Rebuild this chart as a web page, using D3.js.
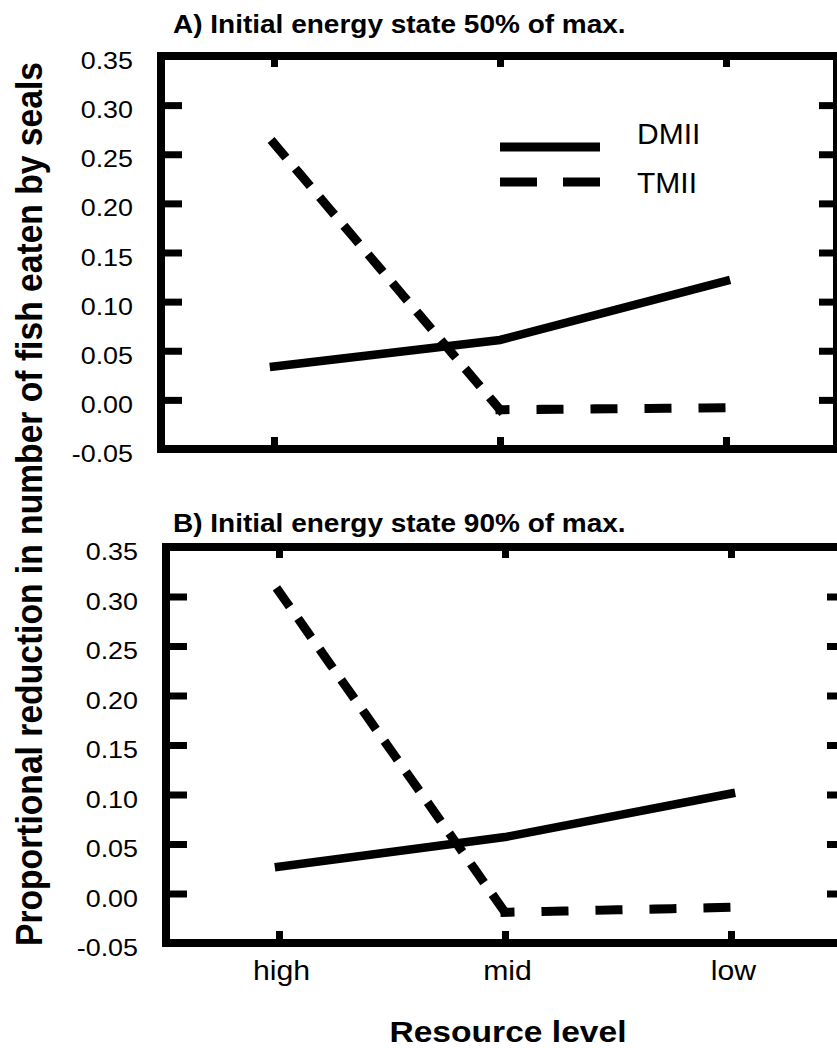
<!DOCTYPE html>
<html>
<head>
<meta charset="utf-8">
<script src="https://cdn.jsdelivr.net/npm/d3@7"></script>
<style>
  html, body { margin: 0; padding: 0; background: #fff; }
  svg { display: block; }
  text { font-family: "Liberation Sans", Arial, Helvetica, sans-serif; fill: #000; }
</style>
</head>
<body>
<svg id="chart" width="837" height="1048"></svg>
<script>
// ---------------- data ----------------
const categories = ["high", "mid", "low"];
const yTickValues = [-0.05, 0.00, 0.05, 0.10, 0.15, 0.20, 0.25, 0.30, 0.35];
const innerTickValues = [0.00, 0.05, 0.10, 0.15, 0.20, 0.25, 0.30];
const panelTitles = ["A) Initial energy state 50% of max.", "B) Initial energy state 90% of max."];
const seriesNames = ["DMII", "TMII"];
const dmiiA = [0.034, 0.061, 0.121];
const tmiiA = [0.261, -0.010, -0.008];
const dmiiB = [0.027, 0.057, 0.101];
const tmiiB = [0.305, -0.019, -0.014];
const yAxisTitle = "Proportional reduction in number of fish eaten by seals";
const xAxisTitle = "Resource level";

// ---------------- layout ----------------
const svg = d3.select("#chart");
const SX = 1.12; // horizontal stretch of the original artwork
const panels = [
  { title: panelTitles[0], dmii: dmiiA, tmii: tmiiA, left: 161, top: 56, bottom: 449, right: 837, titleY: 33, legend: true, xLabels: false },
  { title: panelTitles[1], dmii: dmiiB, tmii: tmiiB, left: 166, top: 547, bottom: 943, right: 845, titleY: 532, legend: false, xLabels: true }
];

const fmt = v => d3.format(".2f")(v).replace("\u2212", "-");

panels.forEach(p => {
  const x = d3.scalePoint().domain(categories).range([p.left, p.left + 678]).padding(0.5);
  const y = d3.scaleLinear().domain([-0.05, 0.35]).range([p.bottom, p.top]);
  const g = svg.append("g");

  // panel title
  g.append("text")
    .attr("transform", `translate(173,${p.titleY}) scale(${SX},1)`)
    .attr("font-size", 25).attr("font-weight", "bold")
    .text(p.title);

  // left axis with labels
  const ax = g.append("g").attr("transform", `translate(${p.left},0)`)
    .call(d3.axisLeft(y).tickValues(yTickValues).tickFormat(fmt).tickSizeInner(-21).tickSizeOuter(0).tickPadding(0));
  ax.select(".domain").remove();
  ax.selectAll(".tick line").attr("stroke", "#000").attr("stroke-width", 7);
  ax.selectAll(".tick text")
    .attr("x", null).attr("dy", null)
    .attr("text-anchor", "end")
    .attr("font-size", 24)
    .attr("font-family", "Liberation Sans, Arial, sans-serif")
    .attr("fill", "#000")
    .attr("transform", `translate(-28,12.5) scale(${SX},1)`);

  // right axis (ticks only)
  const ar = g.append("g").attr("transform", `translate(${p.right},0)`)
    .call(d3.axisRight(y).tickValues(innerTickValues).tickFormat("").tickSizeInner(-18).tickSizeOuter(0));
  ar.select(".domain").remove();
  ar.selectAll(".tick line").attr("stroke", "#000").attr("stroke-width", 7);

  // top axis ticks
  const at = g.append("g").attr("transform", `translate(0,${p.top})`)
    .call(d3.axisTop(x).tickFormat("").tickSizeInner(-11).tickSizeOuter(0));
  at.select(".domain").remove();
  at.selectAll(".tick line").attr("stroke", "#000").attr("stroke-width", 7);

  // bottom axis
  const ab = g.append("g").attr("transform", `translate(0,${p.bottom})`)
    .call(d3.axisBottom(x).tickSizeInner(-12).tickSizeOuter(0).tickPadding(0));
  ab.select(".domain").remove();
  ab.selectAll(".tick line").attr("stroke", "#000").attr("stroke-width", 7);
  if (p.xLabels) {
    ab.selectAll(".tick text")
      .attr("y", null).attr("dy", null)
      .attr("font-size", 27)
      .attr("font-family", "Liberation Sans, Arial, sans-serif")
      .attr("fill", "#000")
      .attr("transform", `translate(2,${980 - p.bottom}) scale(${SX},1)`);
  } else {
    ab.selectAll(".tick text").remove();
  }

  // frame
  g.append("rect")
    .attr("x", p.left).attr("y", p.top)
    .attr("width", p.right - p.left).attr("height", p.bottom - p.top)
    .attr("fill", "none").attr("stroke", "#000").attr("stroke-width", 8);

  // DMII solid line
  const pts = (vals) => categories.map((c, i) => ({ c, v: vals[i] }));
  const line = d3.line().x(d => x(d.c)).y(d => y(d.v));
  g.append("path")
    .attr("d", line(pts(p.dmii)))
    .attr("fill", "none").attr("stroke", "#000").attr("stroke-width", 8.5)
    .attr("stroke-linecap", "square").attr("stroke-linejoin", "miter");

  // TMII dashed line (each segment dashed like the original)
  d3.pairs(pts(p.tmii)).forEach(([a, b]) => {
    const dx = Math.abs(x(b.c) - x(a.c)), dy = Math.abs(y(b.v) - y(a.v));
    const steep = dy > dx * 0.5;
    g.append("path")
      .attr("d", line([a, b]))
      .attr("fill", "none").attr("stroke", "#000").attr("stroke-width", 9)
      .attr("stroke-linecap", "square")
      .attr("stroke-dasharray", steep ? "14,23.5" : "18,36")
      .attr("stroke-dashoffset", steep ? 0 : 13);
  });

  // legend
  if (p.legend) {
    const lg = g.append("g");
    lg.append("line").attr("x1", 500).attr("x2", 600).attr("y1", 147).attr("y2", 147)
      .attr("stroke", "#000").attr("stroke-width", 9);
    lg.append("line").attr("x1", 500).attr("x2", 600).attr("y1", 182).attr("y2", 182)
      .attr("stroke", "#000").attr("stroke-width", 9).attr("stroke-dasharray", "37,26");
    lg.append("text").attr("x", 637).attr("y", 144).attr("font-size", 30).text(seriesNames[0]);
    lg.append("text").attr("x", 637).attr("y", 193).attr("font-size", 30).text(seriesNames[1]);
  }
});

// y axis title
svg.append("text")
  .attr("transform", `translate(42,504) rotate(-90) scale(1,${SX})`)
  .attr("text-anchor", "middle")
  .attr("font-size", 33).attr("font-weight", "bold")
  .attr("textLength", 884).attr("lengthAdjust", "spacingAndGlyphs")
  .text(yAxisTitle);

// x axis title
svg.append("text")
  .attr("transform", `translate(508,1042) scale(${SX},1)`)
  .attr("text-anchor", "middle")
  .attr("font-size", 30).attr("font-weight", "bold")
  .text(xAxisTitle);
</script>
</body>
</html>
